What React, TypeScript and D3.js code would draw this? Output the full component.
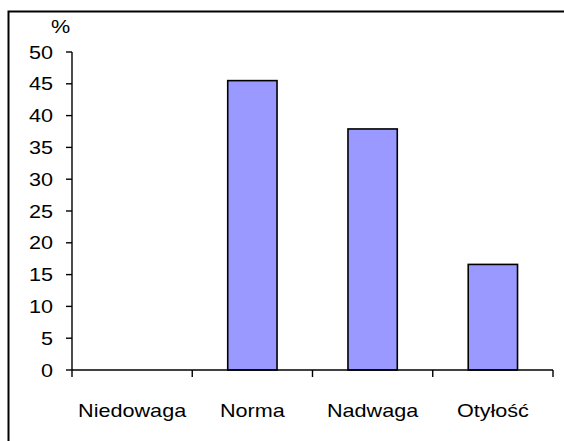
import React from "react";
import * as d3 from "d3";

// Body-mass categories and their shares in percent
const categories = ["Niedowaga", "Norma", "Nadwaga", "Otyłość"];
const shares = [0, 45.5, 37.9, 16.6];
const yTicks = [0, 5, 10, 15, 20, 25, 30, 35, 40, 45, 50];
const yUnit = "%";

const W = 564;
const H = 441;
const plot = { left: 72, right: 553, top: 52, bottom: 370 };
const FONT = "'Liberation Sans', Arial, sans-serif";
const FONT_SIZE = 18;
const STRETCH = 1.2;

export default function App() {
  const x = d3
    .scaleBand<string>()
    .domain(categories)
    .range([plot.left, plot.right])
    .paddingInner(0.59)
    .paddingOuter(0.295);
  const y = d3.scaleLinear().domain([0, 50]).range([plot.bottom, plot.top]);
  const step = x.step();
  const boundaries = d3.range(categories.length + 1).map((i) => plot.left + i * step);

  const label = (txt: string, tx: number, ty: number, anchor: string, key?: string | number) => (
    <text
      key={key}
      transform={`translate(${tx},${ty}) scale(${STRETCH},1)`}
      textAnchor={anchor}
      fontFamily={FONT}
      fontSize={FONT_SIZE}
      fill="#000"
    >
      {txt}
    </text>
  );

  return (
    <svg
      width={W}
      height={H}
      style={{ position: "absolute", left: 0, top: 0, background: "#fff" }}
    >
      <rect x={0} y={0} width={W} height={H} fill="#fff" />
      {/* outer chart frame */}
      <rect x={8.5} y={11.5} width={620} height={500} fill="none" stroke="#000" strokeWidth={2} />

      {/* bars */}
      {categories.map((c, i) => (
        <rect
          key={c}
          x={x(c)!}
          y={y(shares[i])}
          width={x.bandwidth()}
          height={plot.bottom - y(shares[i])}
          fill="#9999FF"
          stroke="#000"
          strokeWidth={1.6}
          visibility={shares[i] > 0 ? "visible" : "hidden"}
        />
      ))}

      {/* y axis */}
      <line x1={plot.left} x2={plot.left} y1={plot.top} y2={plot.bottom} stroke="#000" strokeWidth={1.4} />
      {yTicks.map((t) => (
        <g key={t}>
          <line x1={plot.left - 6} x2={plot.left} y1={y(t)} y2={y(t)} stroke="#000" strokeWidth={1.4} />
          {label(String(t), 53, y(t) + 6.5, "end")}
        </g>
      ))}
      {label(yUnit, 51, 33, "start")}

      {/* x axis */}
      <line x1={plot.left} x2={plot.right} y1={plot.bottom} y2={plot.bottom} stroke="#000" strokeWidth={1.4} />
      {boundaries.map((bx, i) => (
        <line key={i} x1={bx} x2={bx} y1={plot.bottom} y2={plot.bottom + 7} stroke="#000" strokeWidth={1.4} />
      ))}
      {categories.map((c) => label(c, x(c)! + x.bandwidth() / 2, 416.5, "middle", c))}
    </svg>
  );
}
